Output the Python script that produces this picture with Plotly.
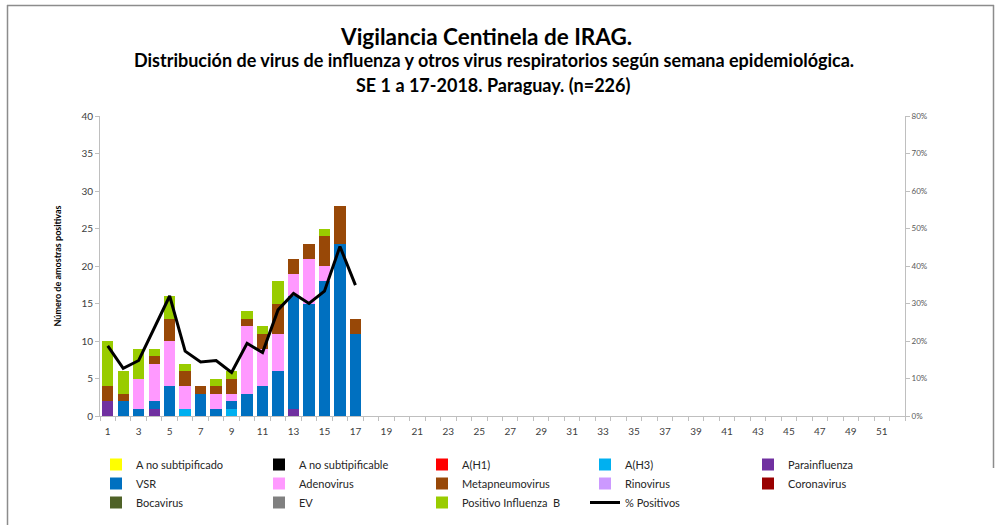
import plotly.graph_objects as go

weeks = list(range(1, 18))

a_no_subtipificado = [0]*17
a_no_subtipificable = [0]*17
a_h1 = [0]*17
a_h3 = [0, 0, 0, 0, 0, 1, 0, 0, 1, 0, 0, 0, 0, 0, 0, 0, 0]
parainfluenza = [2, 0, 0, 1, 0, 0, 0, 0, 0, 0, 0, 0, 1, 0, 0, 0, 0]
vsr = [0, 2, 1, 1, 4, 0, 3, 1, 1, 3, 4, 6, 15, 15, 18, 23, 11]
adenovirus = [0, 0, 4, 5, 6, 3, 0, 2, 1, 9, 5, 5, 3, 6, 2, 0, 0]
metapneumovirus = [2, 1, 0, 1, 3, 2, 1, 1, 2, 1, 2, 4, 2, 2, 4, 5, 2]
rinovirus = [0]*17
coronavirus = [0]*17
bocavirus = [0]*17
ev = [0]*17
influenza_b = [6, 3, 4, 1, 3, 1, 0, 1, 1, 1, 1, 3, 0, 0, 1, 0, 0]
pct_positivos = [18.7, 12.7, 14.8, 23.4, 32.0, 17.3, 14.4, 14.8, 11.6, 19.4,
                 16.9, 28.3, 32.7, 30.0, 33.3, 45.2, 34.9]

series = [
    ("A no subtipificado", a_no_subtipificado, "#FFFF00"),
    ("A no subtipificable", a_no_subtipificable, "#000000"),
    ("A(H1)", a_h1, "#FF0000"),
    ("A(H3)", a_h3, "#00B0F0"),
    ("Parainfluenza", parainfluenza, "#7030A0"),
    ("VSR", vsr, "#0070C0"),
    ("Adenovirus", adenovirus, "#FF99FF"),
    ("Metapneumovirus", metapneumovirus, "#984807"),
    ("Rinovirus", rinovirus, "#CC99FF"),
    ("Coronavirus", coronavirus, "#990000"),
    ("Bocavirus", bocavirus, "#4F6228"),
    ("EV", ev, "#808080"),
    ("Positivo Influenza  B", influenza_b, "#99CC00"),
]

x_labels = list(range(1, 53, 2))

FONT = "Lato"
fig = go.Figure()
for name, vals, color in series:
    fig.add_trace(go.Bar(x=weeks, y=vals, name=name, marker_color=color,
                         marker_line_width=0))
fig.add_trace(go.Scatter(x=weeks, y=[v/100 for v in pct_positivos], name="% Positivos",
                         mode="lines", line=dict(color="black", width=3), yaxis="y2"))

W, H = 1002, 525
L, R, T, B = 100, 97, 116, 109
pw, ph = W - L - R, H - T - B

def px(xp):
    return (xp - L) / pw

def py(yp):
    return (H - B - yp) / ph

fig.update_layout(
    width=W, height=H,
    margin=dict(l=L, r=R, t=T, b=B, autoexpand=False),
    barmode="stack", bargap=0.27,
    plot_bgcolor="white", paper_bgcolor="white",
    font=dict(family=FONT, color="#404040"),
    showlegend=True,
    legend=dict(orientation="h", x=px(96), y=py(450), xanchor="left", yanchor="top",
                font=dict(size=11, color="#262626", family=FONT),
                entrywidth=118, traceorder="normal", itemwidth=30,
                tracegroupgap=0),
    xaxis=dict(range=[0.5, 52.5], tickmode="array", tickvals=x_labels,
               ticktext=[str(v) for v in x_labels], ticks="",
               showline=True, linecolor="#BFBFBF", linewidth=1,
               showgrid=False, zeroline=False, automargin=False,
               ticklabelstandoff=6,
               tickfont=dict(size=10, color="#404040"),
               minor=dict(ticks="outside", tick0=0.5, dtick=1, ticklen=4,
                          tickcolor="#BFBFBF", showgrid=False)),
    yaxis=dict(range=[0, 40], dtick=5, ticks="outside", ticklen=4,
               tickcolor="#BFBFBF", showline=True, linecolor="#BFBFBF",
               showgrid=False, zeroline=False, automargin=False,
               tickfont=dict(size=10, color="#404040"),
               title=dict(text="<b>Número de amostras positivas</b>",
                          font=dict(size=9, color="#000000"), standoff=18)),
    yaxis2=dict(range=[0, 0.8], dtick=0.1, tickformat=".0%", overlaying="y",
                side="right", ticks="outside", ticklen=4, tickcolor="#BFBFBF",
                showline=True, linecolor="#BFBFBF", showgrid=False, zeroline=False,
                automargin=False,
                tickfont=dict(size=8, color="#595959")),
    annotations=[
        dict(text="<b>Vigilancia Centinela de IRAG.</b>", xref="paper", yref="paper",
             x=px(486), y=py(36), showarrow=False, xanchor="center", yanchor="middle",
             font=dict(size=22.5, color="#000000", family=FONT)),
        dict(text="<b>Distribución de virus de influenza y otros virus respiratorios según semana epidemiológica.</b>",
             xref="paper", yref="paper", x=px(494), y=py(60), showarrow=False,
             xanchor="center", yanchor="middle",
             font=dict(size=18, color="#000000", family=FONT)),
        dict(text="<b>SE 1 a 17-2018. Paraguay. (n=226)</b>", xref="paper", yref="paper",
             x=px(493), y=py(85), showarrow=False, xanchor="center", yanchor="middle",
             font=dict(size=18, color="#000000", family=FONT)),
    ],
    shapes=[
        dict(type="line", xref="paper", yref="paper", x0=px(7), x1=px(994),
             y0=py(5.5), y1=py(5.5), line=dict(color="#8C8C8C", width=1.5)),
        dict(type="line", xref="paper", yref="paper", x0=px(7.5), x1=px(7.5),
             y0=py(5), y1=py(530), line=dict(color="#8C8C8C", width=1.5)),
        dict(type="line", xref="paper", yref="paper", x0=px(993.5), x1=px(993.5),
             y0=py(5), y1=py(468), line=dict(color="#8C8C8C", width=1.5)),
    ],
)

fig.write_html("out.html", config={"displayModeBar": False},
               post_script="document.body.style.margin='0px';document.body.style.overflow='hidden';")
